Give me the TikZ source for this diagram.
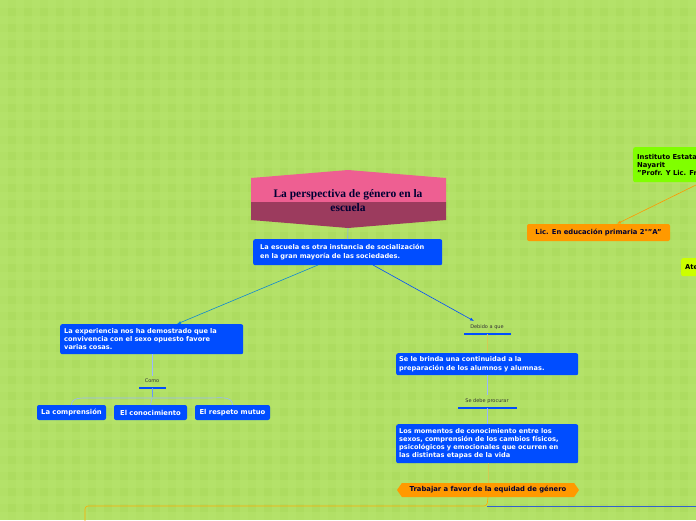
\documentclass[tikz,border=0pt]{standalone}
\usepackage{fontspec}
\setmainfont{DejaVu Sans}
\newfontfamily\titlefont{Liberation Serif}
\usetikzlibrary{arrows.meta,shapes.misc,shapes.symbols}
\definecolor{bg}{HTML}{ADDC60}
\definecolor{bgl}{HTML}{B7E46C}
\definecolor{bx}{HTML}{004DFF}
\definecolor{orng}{HTML}{FF9900}
\definecolor{pinkt}{HTML}{EE5F92}
\definecolor{pinkb}{HTML}{9C3B5E}
\definecolor{lgreen}{HTML}{80FF00}
\definecolor{lyel}{HTML}{CCFF00}
\tikzset{
 bluebox/.style={fill=bx,rounded corners=2pt,text=white,font=\bfseries\fontsize{6.6}{8.3}\selectfont,align=left,anchor=north west,inner sep=0pt,text width=#1},
 kid/.style={fill=bx,rounded corners=2pt,text=white,font=\bfseries\fontsize{6.8}{8}\selectfont,minimum height=15pt,inner sep=1.5pt},
 lbl/.style={font=\fontsize{5}{6}\selectfont,text=black!80},
 bar/.style={draw=bx,line width=2.5pt},
 conn/.style={draw=#1,line width=0.6pt},
 side/.style={rounded corners=2pt,font=\bfseries\fontsize{6.8}{8}\selectfont},
}
\begin{document}
\begin{tikzpicture}[x=1pt,y=-1pt]
\useasboundingbox (0,0) rectangle (696,520);
\clip (0,0) rectangle (696,520);
\fill[bg] (0,0) rectangle (696,520);
\foreach \i in {0,...,43}{\fill[bgl,opacity=0.5] (\i*16,0) rectangle (\i*16+8,520);}
\foreach \j in {0,...,32}{\fill[bgl,opacity=0.5] (0,\j*16) rectangle (696,\j*16+8);}
% title
\fill[pinkt] (251,178) -- (348,170) -- (446,178) -- (446,202) -- (251,202) -- cycle;
\fill[pinkb] (251,202) -- (446,202) -- (446,220) -- (348,228) -- (251,220) -- cycle;
\node[font=\titlefont\bfseries\fontsize{11.5}{14}\selectfont,text=black!80!blue,align=center] (title) at (348,201) {La perspectiva de género en la\\escuela};
\coordinate (tb) at (348,228);
% boxes
\node[bluebox=189pt,minimum height=26pt] (b1) at (253,239) {\hspace*{7pt}\parbox{180pt}{La escuela es otra instancia de socialización\\en la gran mayoría de las sociedades.}};
\node[bluebox=183pt,minimum height=30pt] (b2) at (60,324) {\hspace*{4pt}\parbox{178pt}{La experiencia nos ha demostrado que la\\convivencia con el sexo opuesto favore\\varias cosas.}};
\node[bluebox=182pt,minimum height=22pt] (b3) at (396,353) {\hspace*{3pt}\parbox{178pt}{Se le brinda una continuidad a la\\preparación de los alumnos y alumnas.}};
\node[bluebox=182pt,minimum height=39pt] (b4) at (396,424) {\hspace*{3pt}\parbox{178pt}{Los momentos de conocimiento entre los\\sexos, comprensión de los cambios físicos,\\psicológicos y emocionales que ocurren en\\las distintas etapas de la vida}};
\draw[conn=bx!50] (tb) -- (b1.north);
% labels
\node[lbl] (deb) at (487,327) {Debido a que};
\draw[bar] (464,334) -- (511,334); \coordinate (debb) at (487,334);
\node[lbl] (sdp) at (487,401) {Se debe procurar};
\draw[bar] (458,408) -- (517,408); \coordinate (sdpb) at (487,408);
\node[lbl] (como) at (152,381) {Como};
\draw[bar] (139,388) -- (166,388); \coordinate (comob) at (152,388);
\draw[conn=cyan!70!blue,-{Latex[length=4pt]}] (318,265) -- (177,324);
\draw[conn=bx,-{Latex[length=4pt]}] (373,265) -- (474,321);
\draw[conn=yellow!60!gray] (debb) -- (b3.north -| debb);
\draw[conn=bx!40] (b3.south -| debb) -- (sdp.north);
\draw[conn=bx!40] (sdpb) -- (b4.north -| sdpb);
\draw[conn=bx!40] (152,354) -- (como.north);
% kids
\node[kid,minimum width=69pt] (k1) at (71.5,412.5) {La comprensión};
\node[kid,minimum width=73pt] (k2) at (150.5,412.5) {El conocimiento};
\node[kid,minimum width=75pt] (k3) at (232.5,412.5) {El respeto mutuo};
\draw[conn=bx!60] (comob) -- (152,397);
\draw[conn=bx!40] (k1.north) to[out=90,in=180] (90,398) -- (210,398) to[out=0,in=90] (k3.north);
\draw[conn=bx!40] (152,398) -- (k2.north);
% orange hexagon
\node[fill=orng,signal,signal to=east and west,signal pointer angle=110,minimum width=182pt,minimum height=14pt,inner sep=1pt,font=\bfseries\fontsize{6.8}{8}\selectfont,text=black!80!blue] (eq) at (488,490) {Trabajar a favor de la equidad de género};
\draw[conn=yellow!60!gray] (b4.south -| eq) -- (eq.north);
\draw[conn=orng!80!yellow,rounded corners=3pt] (eq.south) -- (487,506) -- (85,506) -- (85,525);
\draw[conn=bx!60!gray,rounded corners=3pt] (487,506) -- (696,506);
% right
\node[side,fill=lgreen,anchor=north west,minimum height=35pt,inner sep=4pt,align=left] (ins) at (633,147) {Instituto Estatal de Educación Normal de\\Nayarit\\"Profr. Y Lic. Francisco Benítez Silva"};
\node[side,fill=orng,minimum width=143pt,minimum height=17pt,inner sep=1pt,text=black!80!blue] (lic) at (598.5,232.5) {Lic. En educación primaria 2°"A"};
\coordinate (insr) at (700,183);
\draw[conn=orng,-{Latex[length=4pt]}] (insr) -- (lic.north -| 617,0);
\node[side,fill=lyel,anchor=north west,minimum height=18pt,inner sep=4pt] (at) at (681,258) {Atentamente};
\end{tikzpicture}
\end{document}
